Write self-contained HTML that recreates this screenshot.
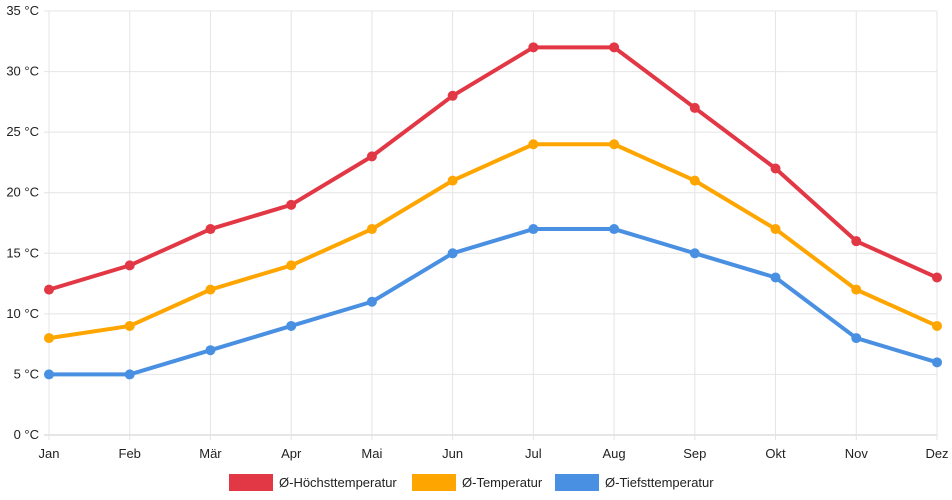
<!DOCTYPE html>
<html><head><meta charset="utf-8"><style>
body{margin:0;background:#fff;font-family:"Liberation Sans",sans-serif}
svg{display:block}
text{font-family:"Liberation Sans",sans-serif;font-size:13px;fill:#222}
</style></head><body>
<svg id="chart" width="952" height="500">
<g id="grid"></g>
<g id="axes"></g>
<g id="series"></g>
<g id="legend"></g>
</svg>
<script>
const months=["Jan","Feb","Mär","Apr","Mai","Jun","Jul","Aug","Sep","Okt","Nov","Dez"];
const highs=[12,14,17,19,23,28,32,32,27,22,16,13];
const means=[8,9,12,14,17,21,24,24,21,17,12,9];
const lows=[5,5,7,9,11,15,17,17,15,13,8,6];
const yTicks=[0,5,10,15,20,25,30,35];
const seriesNames=["Ø-Höchsttemperatur","Ø-Temperatur","Ø-Tiefsttemperatur"];
const NS="http://www.w3.org/2000/svg";
const L=49,R=937,T=11,B=435,YMAX=35;
const x=i=>L+i*(R-L)/(months.length-1);
const y=v=>B-v*(B-T)/YMAX;
function mk(tag,attrs,parent,txt){const e=document.createElementNS(NS,tag);for(const k in attrs)e.setAttribute(k,attrs[k]);if(txt!=null)e.textContent=txt;parent.appendChild(e);return e;}
const grid=document.getElementById('grid'),axes=document.getElementById('axes'),ser=document.getElementById('series'),leg=document.getElementById('legend');
yTicks.forEach(v=>{
  const l=mk('line',{x1:L-5,x2:R,y1:y(v),y2:y(v),stroke:v===0?'#ccc':'#e4e4e4','stroke-width':1},grid);
  
  
  const t=mk('text',{x:L-10,y:y(v)+4,'text-anchor':'end'},axes,v+' °C');
  
  
});
months.forEach((m,i)=>{
  const l=mk('line',{x1:x(i),x2:x(i),y1:T,y2:B+5,stroke:'#e4e4e4','stroke-width':1},grid);
  
  
  const t=mk('text',{x:x(i),y:B+23,'text-anchor':'middle'},axes,m);
  
  
});
const colors=["#e23744","#ffa500","#4a90e2"];
[highs,means,lows].forEach((d,s)=>{
  const g=mk('g',{},ser);
  
  
  const p=mk('polyline',{points:d.map((v,i)=>x(i)+','+y(v)).join(' '),fill:'none',stroke:colors[s],'stroke-width':4,'stroke-linejoin':'round'},g);
  
  
  d.forEach((v,i)=>{
    const c=mk('circle',{cx:x(i),cy:y(v),r:5,fill:colors[s]},g);
    
    
  });
});
const lx=[229,412,555];
seriesNames.forEach((n,s)=>{
  const g=mk('g',{},leg);
  
  
  mk('rect',{x:lx[s],y:474,width:44,height:17,fill:colors[s]},g);
  mk('text',{x:lx[s]+50,y:487},g,n);
});
</script>
</body></html>
